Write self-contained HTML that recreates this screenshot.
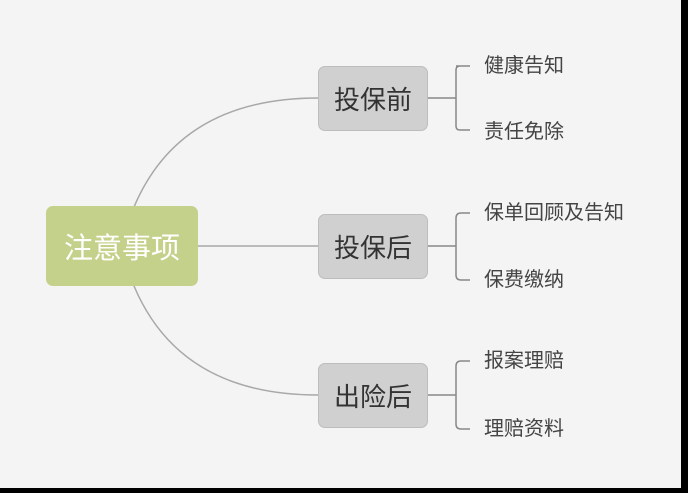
<!DOCTYPE html>
<html><head><meta charset="utf-8"><style>
body{margin:0;width:688px;height:493px;background:#000;overflow:hidden;font-family:"Liberation Sans","Noto Sans CJK SC",sans-serif}
#c{position:absolute;left:0;top:0;width:681px;height:488px;background:#f4f4f4}
.b{position:absolute;display:flex;align-items:center;justify-content:center;border-radius:7px}
.m{background:#d0d0d0;border:1px solid #bdbdbd;width:108px;height:63px;left:318px;font-size:26px;color:#333}
.l{position:absolute;left:484px;font-size:20px;color:#444;line-height:24px}
</style></head><body><div id="c">
<svg width="681" height="488" style="position:absolute;left:0;top:0">
<g fill="none" stroke="#a8a8a8" stroke-width="1.5">
<path d="M134 207 Q180 98 318 98"/>
<path d="M134 286 Q180 395 318 395"/>
<path d="M198 246 H318"/>
<g stroke="#888">
<path d="M428 98 H456 M463 66 H460 Q456 66 456 70 V126 Q456 130 460 130 H470 M456 66 H470"/>
<path d="M428 246 H456 M456 218 Q456 213 461 213 H470 M456 218 V275 Q456 280 461 280 H470"/>
<path d="M428 395 H456 M456 366 Q456 361 461 361 H470 M456 366 V424 Q456 429 461 429 H470"/>
</g></g></svg>
<div class="b" style="left:46px;top:206px;width:152px;height:80px;background:#c4d18a;color:#fff;font-size:29px">注意事项</div>
<div class="b m" style="top:66px">投保前</div>
<div class="b m" style="top:214px">投保后</div>
<div class="b m" style="top:363px">出险后</div>
<div class="l" style="top:54px">健康告知</div>
<div class="l" style="top:120px">责任免除</div>
<div class="l" style="top:201px">保单回顾及告知</div>
<div class="l" style="top:268px">保费缴纳</div>
<div class="l" style="top:349px">报案理赔</div>
<div class="l" style="top:417px">理赔资料</div>
</div></body></html>
